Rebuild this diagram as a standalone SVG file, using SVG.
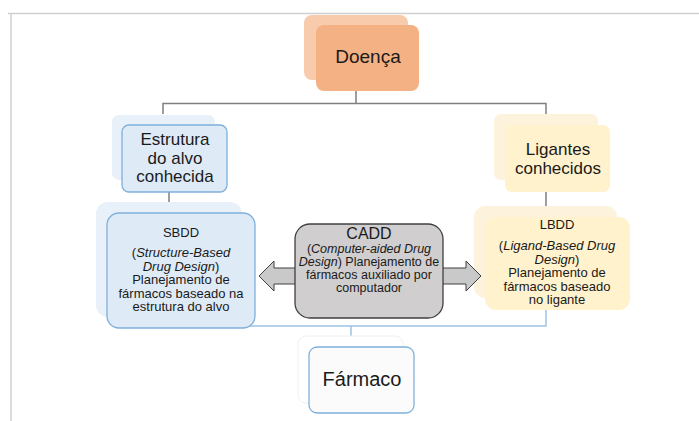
<svg xmlns="http://www.w3.org/2000/svg" width="699" height="421" viewBox="0 0 699 421">
<style>
text{font-family:"Liberation Sans",Arial,sans-serif;fill:#1a1a1a;text-anchor:middle}
.gl{stroke:#7f7f7f;stroke-width:1.5;fill:none}
.bl{stroke:#9dc3e6;stroke-width:1.5;fill:none}
.big{font-size:17px}
.sm{font-size:13px}
.cd{font-size:12.5px}
.ar{fill:#c9c9c9;stroke:#404040;stroke-width:1}
</style>
<rect width="699" height="421" fill="#fff"/>
<path d="M8,13.5H699M11,13.5V421" stroke="#d0d0d0" stroke-width="1.5" fill="none"/>
<g id="connectors">
<path class="gl" d="M356,91V103.5M163,114V103.5H546V114M169,192V202M546,192V206"/>
<path class="bl" d="M240,326H546V310M351,326V336"/>
</g>
<g id="doenca">
<rect x="304" y="15" width="104" height="65" rx="8" fill="#f8cbad"/>
<rect x="316" y="25" width="103" height="66" rx="8" fill="#f4b183"/>
<text x="368" y="63" font-size="19">Doença</text>
</g>
<g id="estrutura">
<rect x="112" y="115" width="103" height="65" rx="7" fill="#e8f0f9"/>
<rect x="122" y="125" width="105" height="67" rx="7" fill="#deebf7" stroke="#7fb0dc" stroke-width="1.3"/>
<text class="big" x="175" y="145">Estrutura</text>
<text class="big" x="175" y="163.5">do alvo</text>
<text class="big" x="175" y="182">conhecida</text>
</g>
<g id="ligantes">
<rect x="494" y="114" width="104" height="66" rx="7" fill="#fdf3dc"/>
<rect x="505" y="125" width="105" height="67" rx="7" fill="#fff2cc"/>
<text class="big" x="558" y="155">Ligantes</text>
<text class="big" x="558" y="173.5">conhecidos</text>
</g>
<g id="sbdd">
<rect x="96" y="202" width="146" height="115" rx="12" fill="#e8f0f9"/>
<rect x="107" y="213" width="148" height="115" rx="12" fill="#deebf7" stroke="#7fb0dc" stroke-width="1.3"/>
<text class="sm" x="181" y="237">SBDD</text>
<text class="sm" x="181" y="257">(<tspan font-style="italic">Structure-Based</tspan></text>
<text class="sm" x="181" y="270.5"><tspan font-style="italic">Drug Design</tspan>)</text>
<text class="sm" x="181" y="284">Planejamento de</text>
<text class="sm" x="181" y="297.5">fármacos baseado na</text>
<text class="sm" x="181" y="311">estrutura do alvo</text>
</g>
<g id="lbdd">
<rect x="474" y="206" width="143" height="92" rx="11" fill="#fdf3dc"/>
<rect x="485" y="217" width="145" height="93" rx="11" fill="#fff2cc"/>
<text class="sm" x="557" y="229">LBDD</text>
<text class="sm" x="557" y="250">(<tspan font-style="italic">Ligand-Based Drug</tspan></text>
<text class="sm" x="557" y="263.5"><tspan font-style="italic">Design</tspan>)</text>
<text class="sm" x="557" y="277">Planejamento de</text>
<text class="sm" x="557" y="290.5">fármacos baseado</text>
<text class="sm" x="557" y="304">no ligante</text>
</g>
<g id="cadd">
<path class="ar" d="M296,268H274V261L259,276L274,291V284H296Z"/>
<path class="ar" d="M442,268H466V261L481,276L466,291V284H442Z"/>
<rect x="295" y="224" width="148" height="94" rx="15" fill="#d0cece" stroke="#404040" stroke-width="1.3"/>
<text x="369" y="239" font-size="16">CADD</text>
<text class="cd" x="369" y="253">(<tspan font-style="italic">Computer-aided Drug</tspan></text>
<text class="cd" x="369" y="266"><tspan font-style="italic">Design</tspan>) Planejamento de</text>
<text class="cd" x="369" y="279">fármacos auxiliado por</text>
<text class="cd" x="369" y="292">computador</text>
</g>
<g id="farmaco">
<rect x="298" y="336" width="105" height="67" rx="8" fill="#fff" stroke="#f0f0f0" stroke-width="1"/>
<rect x="309" y="347" width="105" height="66" rx="8" fill="#fbfbfb" stroke="#7fb0dc" stroke-width="1.3"/>
<text x="362" y="386" font-size="20">Fármaco</text>
</g>
</svg>
